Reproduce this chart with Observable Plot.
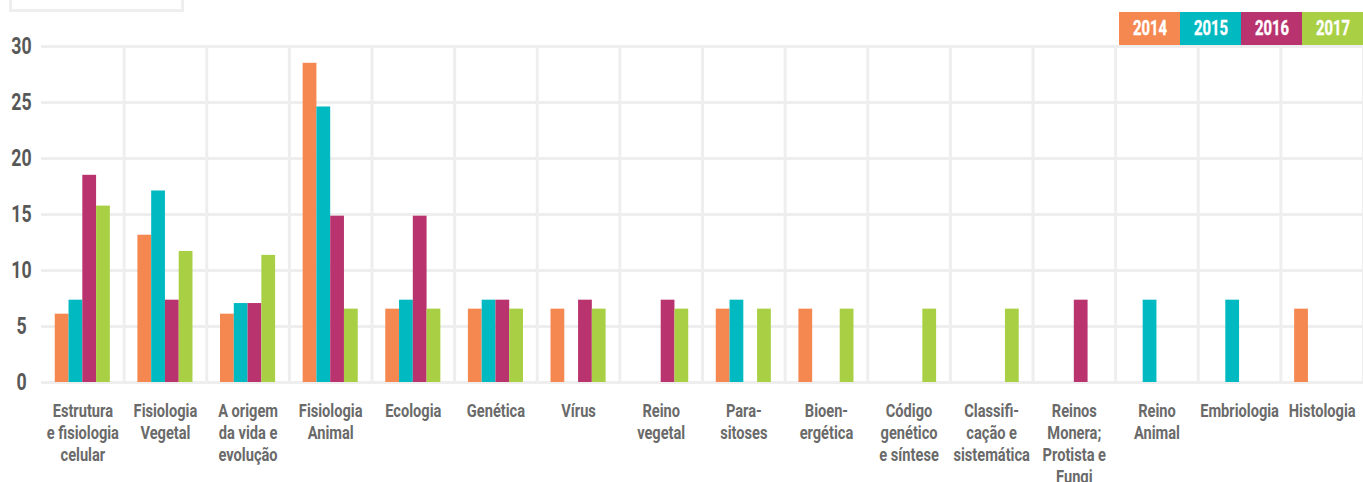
<!DOCTYPE html>
<html>
<head>
<meta charset="utf-8">
<script src="https://cdn.jsdelivr.net/npm/d3@7"></script>
<script src="https://cdn.jsdelivr.net/npm/@observablehq/plot@0.6"></script>
<style>
  body { margin: 0; background: #fff; }
  #wrap {
    position: relative; width: 1363px; height: 482px; overflow: hidden;
    font-family: Roboto, "DejaVu Sans Condensed", sans-serif;
  }
  .titlebox {
    position: absolute; left: 9px; top: -20px; width: 169px; height: 26px;
    border: 3px solid #eeeeee; background: #fff;
  }
  .legend { position: absolute; top: 12px; right: 0; display: flex; }
  .legend div {
    width: 61px; height: 33px; line-height: 33px; text-align: center;
    color: #fff; font-weight: 700; font-size: 20px;
  }
  .legend span { display: inline-block; transform: scaleX(0.74); -webkit-text-stroke: 0.4px #fff; }
  #chart svg { display: block; }
</style>
</head>
<body>
<div id="wrap">
  <div class="titlebox"></div>
  <div id="chart"></div>
  <div class="legend" id="legend"></div>
</div>
<script>
// Topics of the exam questions, in display order
const categories = [
  "Estrutura e fisiologia celular", "Fisiologia Vegetal", "A origem da vida e evolução",
  "Fisiologia Animal", "Ecologia", "Genética", "Vírus", "Reino vegetal", "Parasitoses",
  "Bioenergética", "Código genético e síntese", "Classificação e sistemática",
  "Reinos Monera; Protista e Fungi", "Reino Animal", "Embriologia", "Histologia"
];
// Tick labels as they are broken over lines under each group
const tickLabels = [
  "Estrutura\ne fisiologia\ncelular", "Fisiologia\nVegetal", "A origem\nda vida e\nevolução",
  "Fisiologia\nAnimal", "Ecologia", "Genética", "Vírus", "Reino\nvegetal", "Para-\nsitoses",
  "Bioen-\nergética", "Código\ngenético\ne síntese", "Classifi-\ncação e\nsistemática",
  "Reinos\nMonera;\nProtista e\nFungi", "Reino\nAnimal", "Embriologia", "Histologia"
];
const years = ["2014", "2015", "2016", "2017"];
const colors = ["#f58750", "#00b9c1", "#b9336f", "#a9d045"];

// Share of questions (%) per topic and year; null = topic absent that year
const v2014 = [6.1, 13.15, 6.1, 28.5, 6.55, 6.55, 6.55, null, 6.55, 6.55, null, null, null, null, null, 6.55];
const v2015 = [7.35, 17.1, 7.05, 24.6, 7.35, 7.35, null, null, 7.35, null, null, null, null, 7.35, 7.35, null];
const v2016 = [18.5, 7.35, 7.05, 14.85, 14.85, 7.35, 7.35, 7.35, null, null, null, null, 7.35, null, null, null];
const v2017 = [15.75, 11.7, 11.35, 6.55, 6.55, 6.55, 6.55, 6.55, 6.55, 6.55, 6.55, 6.55, null, null, null, null];

const yTicks = [0, 5, 10, 15, 20, 25, 30];

const series = [v2014, v2015, v2016, v2017];
const rows = [];
series.forEach((vals, j) => vals.forEach((v, i) => {
  if (v != null) rows.push({category: categories[i], year: years[j], value: v});
}));
const labelOf = new Map(categories.map((c, i) => [c, tickLabels[i]]));

const font = 'Roboto, "DejaVu Sans Condensed", sans-serif';
const grid = "#eeeeee";

const chart = Plot.plot({
  width: 1363,
  height: 482,
  marginLeft: 41,
  marginRight: 0,
  marginTop: 46,
  marginBottom: 100,
  style: {fontFamily: font, background: "transparent", overflow: "visible"},
  fx: {domain: categories, padding: 0, round: false, label: null},
  x: {domain: years, paddingInner: 0, paddingOuter: 1, round: false, axis: null},
  y: {domain: [0, 30], axis: null},
  color: {domain: years, range: colors},
  marks: [
    Plot.gridY(yTicks, {stroke: grid, strokeWidth: 3, strokeOpacity: 1}),
    Plot.frame({anchor: "right", stroke: grid, strokeWidth: 3, strokeOpacity: 1}),
    Plot.barY(rows, {fx: "category", x: "year", y: "value", fill: "year"}),
    Plot.axisY(yTicks, {
      tickSize: 0, tickPadding: 20, textAnchor: "middle",
      fontSize: 23, fontWeight: 700, fill: "#585858",
      stroke: "#585858", strokeWidth: 0.6, label: null
    }),
    Plot.axisFx({
      anchor: "bottom", tickSize: 0, tickPadding: 19,
      tickFormat: (d) => labelOf.get(d), lineHeight: 1.16,
      fontSize: 19, fontWeight: 700, fill: "#6a6a6a",
      stroke: "#6a6a6a", strokeWidth: 0.5, label: null
    })
  ]
});

// Narrow the tick labels horizontally around their anchor point
chart.querySelectorAll('g[aria-label="fx-axis tick label"] text, g[aria-label="y-axis tick label"] text')
  .forEach((t) => {
    const tr = t.getAttribute("transform") || "";
    t.setAttribute("transform", `${tr} scale(0.77,1)`);
  });
document.getElementById("chart").append(chart);

// Year legend: coloured boxes with white labels
const legend = document.getElementById("legend");
years.forEach((y, i) => {
  const box = document.createElement("div");
  box.style.background = colors[i];
  const s = document.createElement("span");
  s.textContent = y;
  box.append(s);
  legend.append(box);
});
</script>
</body>
</html>
